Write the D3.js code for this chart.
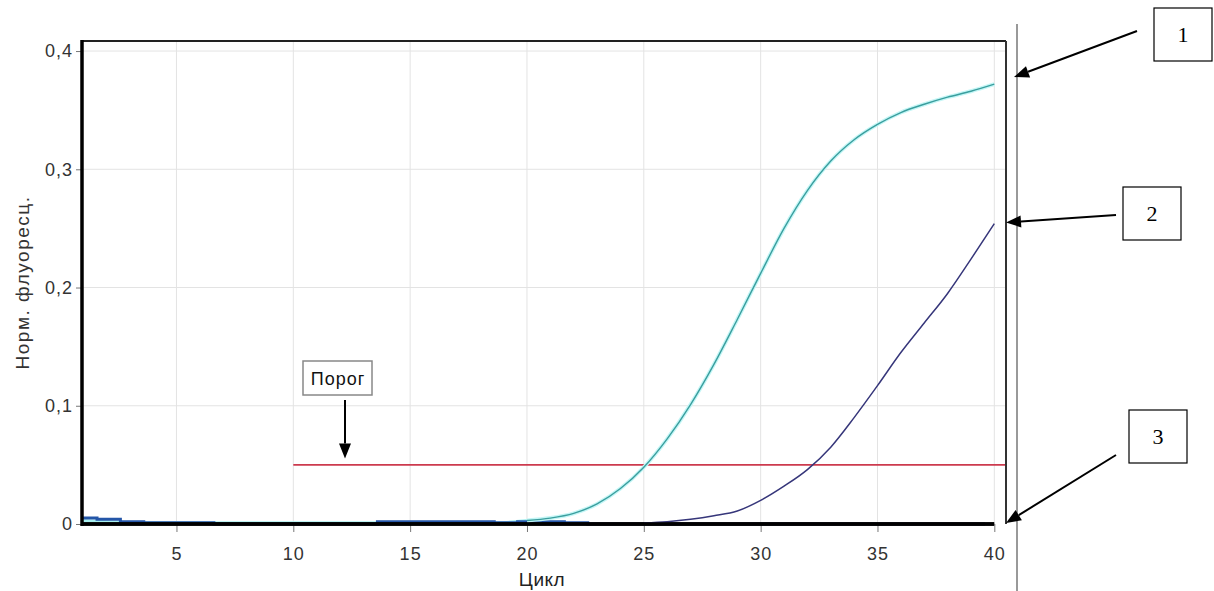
<!DOCTYPE html>
<html>
<head>
<meta charset="utf-8">
<script src="https://cdn.jsdelivr.net/npm/d3@7"></script>
<style>
  body { margin: 0; background: #fff; }
  svg { display: block; font-family: "Liberation Sans", Arial, sans-serif; }
</style>
</head>
<body>
<div id="grafico"></div>
<script>
// Данные: циклы и нормированная флуоресценция
const cycles = d3.range(1, 41);
const xTicks = [5, 10, 15, 20, 25, 30, 35, 40];
const yTicks = [0, 0.1, 0.2, 0.3, 0.4];
const threshold = 0.05;
const thresholdStart = 10;

// кривая 1 (бирюзовая)
const curve1 = [0.003, 0.002, 0.001, 0.001, 0.001, 0.001, 0.001, 0.001, 0.001, 0.001,
                0.001, 0.001, 0.001, 0.001, 0.001, 0.001, 0.001, 0.001, 0.001, 0.003,
                0.005, 0.009, 0.017, 0.030, 0.048, 0.072, 0.101, 0.135, 0.173, 0.212,
                0.250, 0.282, 0.307, 0.325, 0.338, 0.348, 0.355, 0.361, 0.366, 0.372];
// кривая 2 (тёмно-синяя), с 25 цикла
const curve2Cycles = d3.range(25, 41);
const curve2 = [0.001, 0.002, 0.004, 0.007, 0.011, 0.020, 0.032, 0.046, 0.065, 0.090,
                0.117, 0.145, 0.170, 0.195, 0.224, 0.254];
// кривая 3 (отрицательный контроль) и шум у нуля
const curve3 = cycles.map(() => 0);
const blueBase = [0.005, 0.004, 0.002, 0.001, 0.001, 0.001, 0, 0, 0, 0,
                  0, 0, 0, 0.002, 0.002, 0.002, 0.002, 0.002, 0.001, 0.002,
                  0.002, 0.001, 0, 0, 0, 0, 0, 0, 0, 0,
                  0, 0, 0, 0, 0, 0, 0, 0, 0, 0];

function desenhar() {
    const width = 1214;
    const height = 591;

    const svg = d3.select("#grafico")
        .append("svg")
        .attr("width", width)
        .attr("height", height);

    const xScale = d3.scaleLinear().domain([1, 40.5]).range([83, 1006]);
    const yScale = d3.scaleLinear().domain([0, 0.4085]).range([524, 41]);

    const x0 = xScale(1), x1 = xScale(40.5);
    const y0 = yScale(0), y1 = yScale(0.4085);

    svg.append("clipPath").attr("id", "area")
        .append("rect")
        .attr("x", x0).attr("y", y1)
        .attr("width", x1 - x0).attr("height", y0 - y1 + 4);

    // сетка
    svg.append("g")
        .selectAll("line")
        .data(xTicks)
        .enter().append("line")
        .attr("x1", d => xScale(d)).attr("x2", d => xScale(d))
        .attr("y1", y1).attr("y2", y0)
        .attr("stroke", "#e3e3e3").attr("stroke-width", 1);

    svg.append("g")
        .selectAll("line")
        .data(yTicks.slice(1))
        .enter().append("line")
        .attr("x1", x0).attr("x2", x1)
        .attr("y1", d => yScale(d)).attr("y2", d => yScale(d))
        .attr("stroke", "#e3e3e3").attr("stroke-width", 1);

    // оси
    const fmt = d => d === 0 ? "0" : d3.format(".1f")(d).replace(".", ",");

    const gx = svg.append("g")
        .attr("transform", `translate(0,${y0})`)
        .call(d3.axisBottom(xScale).tickValues(xTicks).tickSize(8).tickPadding(15));
    const gy = svg.append("g")
        .attr("transform", `translate(${x0 - 1},0)`)
        .call(d3.axisLeft(yScale).tickValues(yTicks).tickSize(6).tickPadding(3).tickFormat(fmt));

    [gx, gy].forEach(g => {
        g.select(".domain").remove();
        g.selectAll(".tick line").attr("stroke", "#777");
        g.selectAll(".tick text")
            .attr("fill", "#333")
            .style("font-size", "18px")
            .style("letter-spacing", "1px")
            .style("font-family", "'Liberation Sans', Arial, sans-serif");
    });

    // порог
    svg.append("line")
        .attr("x1", xScale(thresholdStart)).attr("x2", x1)
        .attr("y1", yScale(threshold)).attr("y2", yScale(threshold))
        .attr("stroke", "#cc3a4e").attr("stroke-width", 1.6);

    const line = d3.line()
        .x(d => xScale(d[0]))
        .y(d => yScale(d[1]));

    const plot = svg.append("g").attr("clip-path", "url(#area)");

    // шум у нуля
    plot.append("path")
        .datum(cycles.slice(0, 20).map((c, i) => [c, curve1[i]]))
        .attr("d", line).attr("fill", "none")
        .attr("stroke", "#a8f0f0").attr("stroke-width", 3);

    plot.append("path")
        .datum(cycles.map((c, i) => [c, blueBase[i]]))
        .attr("d", d3.line().curve(d3.curveStepAfter).x(d => xScale(d[0] - 0.4)).y(d => yScale(d[1])))
        .attr("fill", "none")
        .attr("stroke", "#2456a8").attr("stroke-width", 3);

    // кривая 3
    plot.append("path")
        .datum(cycles.map((c, i) => [c, curve3[i]]))
        .attr("d", line).attr("fill", "none")
        .attr("stroke", "#000").attr("stroke-width", 3.5);

    // кривая 1
    const c1 = cycles.slice(19).map((c, i) => [c, curve1[i + 19]]);
    const smooth = d3.line().curve(d3.curveMonotoneX)
        .x(d => xScale(d[0]))
        .y(d => yScale(d[1]));
    plot.append("path")
        .datum(c1)
        .attr("d", smooth).attr("fill", "none")
        .attr("stroke", "#c4f6f6").attr("stroke-width", 4);
    plot.append("path")
        .datum(c1)
        .attr("d", smooth).attr("fill", "none")
        .attr("stroke", "#3a9e9e").attr("stroke-width", 1.4);

    // кривая 2
    plot.append("path")
        .datum(curve2Cycles.map((c, i) => [c, curve2[i]]))
        .attr("d", smooth).attr("fill", "none")
        .attr("stroke", "#36367a").attr("stroke-width", 1.5);

    // рамка
    svg.append("line").attr("x1", x0 - 1).attr("x2", x1).attr("y1", y1).attr("y2", y1)
        .attr("stroke", "#222").attr("stroke-width", 2);
    svg.append("line").attr("x1", x1).attr("x2", x1).attr("y1", y1).attr("y2", y0)
        .attr("stroke", "#333").attr("stroke-width", 2);
    svg.append("line").attr("x1", x0 - 1).attr("x2", x0 - 1).attr("y1", y1 - 1).attr("y2", y0 + 2)
        .attr("stroke", "#000").attr("stroke-width", 3.5);
    svg.append("line").attr("x1", x0 - 2).attr("x2", x1 - 12).attr("y1", y0).attr("y2", y0)
        .attr("stroke", "#000").attr("stroke-width", 3.5);

    // подписи осей
    svg.append("text")
        .attr("transform", `translate(29,${(y0 + y1) / 2}) rotate(-90)`)
        .attr("text-anchor", "middle")
        .attr("fill", "#333")
        .style("font-size", "19px")
        .style("letter-spacing", "1.5px")
        .text("Норм. флуоресц.");
    svg.append("text")
        .attr("x", 542).attr("y", 586)
        .attr("text-anchor", "middle")
        .attr("fill", "#222")
        .style("font-size", "19px")
        .style("letter-spacing", "0.5px")
        .text("Цикл");

    // вертикальная линия справа
    svg.append("line").attr("x1", 1017).attr("x2", 1017).attr("y1", 24).attr("y2", height)
        .attr("stroke", "#999").attr("stroke-width", 2);

    // стрелки
    function seta(xa, ya, xb, yb) {
        const ang = Math.atan2(yb - ya, xb - xa);
        const len = 15, w = 6;
        const bx = xb - len * Math.cos(ang), by = yb - len * Math.sin(ang);
        svg.append("line")
            .attr("x1", xa).attr("y1", ya).attr("x2", bx).attr("y2", by)
            .attr("stroke", "#000").attr("stroke-width", 2);
        const px = -Math.sin(ang) * w, py = Math.cos(ang) * w;
        svg.append("polygon")
            .attr("points", `${xb},${yb} ${bx + px},${by + py} ${bx - px},${by - py}`)
            .attr("fill", "#000");
    }

    // метка "Порог"
    svg.append("rect")
        .attr("x", 303).attr("y", 361).attr("width", 69).attr("height", 34)
        .attr("fill", "#fff").attr("stroke", "#888").attr("stroke-width", 1.5);
    svg.append("text")
        .attr("x", 338).attr("y", 385)
        .attr("text-anchor", "middle")
        .attr("fill", "#111")
        .style("font-size", "18px")
        .style("letter-spacing", "1px")
        .text("Порог");
    seta(345, 400, 345, yScale(0.0555));

    // номера кривых
    const boxes = [
        { n: "1", x: 1154, y: 8, tip: [1014, yScale(0.378)], from: [1137, 31] },
        { n: "2", x: 1123, y: 187, tip: [x1, yScale(0.255)], from: [1116, 215] },
        { n: "3", x: 1129, y: 410, tip: [x1, y0 - 1], from: [1116, 455] }
    ];
    boxes.forEach(b => {
        svg.append("rect")
            .attr("x", b.x).attr("y", b.y).attr("width", 58).attr("height", 53)
            .attr("fill", "#fff").attr("stroke", "#000").attr("stroke-width", 1.2);
        svg.append("text")
            .attr("x", b.x + 29).attr("y", b.y + 34)
            .attr("text-anchor", "middle")
            .style("font-family", "'Liberation Serif', 'Times New Roman', serif")
            .style("font-size", "22px")
            .text(b.n);
        seta(b.from[0], b.from[1], b.tip[0], b.tip[1]);
    });
}

document.addEventListener('DOMContentLoaded', () => {
    desenhar();
});
</script>
</body>
</html>
